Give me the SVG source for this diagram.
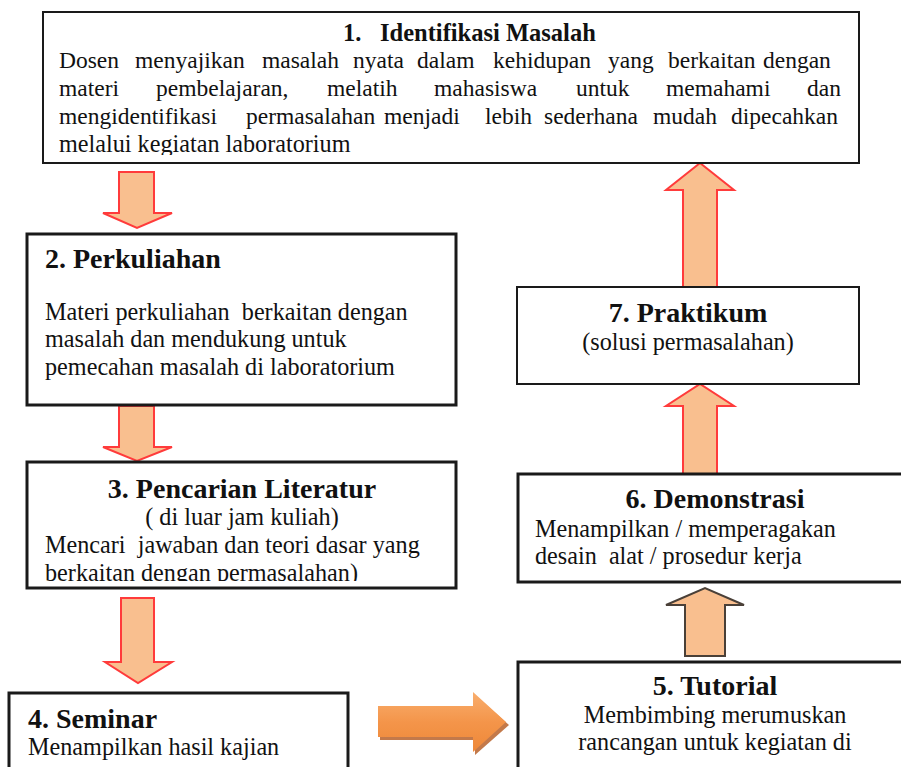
<svg xmlns="http://www.w3.org/2000/svg" width="901" height="767" viewBox="0 0 901 767">
<defs>
<style>
.box{fill:#fff;stroke:#1a1a1a;stroke-width:3}
.thin{stroke-width:2}
.t{font-family:"Liberation Serif","Times New Roman",serif;fill:#111;font-size:24.2px}
.s{font-size:23.5px}
.b{font-family:"Liberation Serif","Times New Roman",serif;fill:#111;font-weight:bold;font-size:28px}
.c{text-anchor:middle}
.ar{fill:#F9BF8F;stroke:#FF3B3B;stroke-width:2;stroke-linejoin:miter}
.ag{fill:#F9BF8F;stroke:#4a4038;stroke-width:2}
</style>
<linearGradient id="og" x1="0" y1="0" x2="0" y2="1">
<stop offset="0" stop-color="#F9AE6E"/>
<stop offset="0.5" stop-color="#F4954A"/>
<stop offset="1" stop-color="#EE8838"/>
</linearGradient>
<clipPath id="c1"><rect x="43" y="12" width="816" height="143"/></clipPath>
<clipPath id="c3"><rect x="27" y="462" width="430" height="119"/></clipPath>
</defs>
<rect width="901" height="767" fill="#fff"/>

<g id="connectors">
<polygon class="ar" points="119,172 154,172 154,213 172,213 137,228 103,213 119,213"/>
<polygon class="ar" points="119,406 154,406 154,447 172,447 137,461 103,447 119,447"/>
<polygon class="ar" points="121,598 154,598 154,662 172,662 138,683 105,662 121,662"/>
<polygon points="380,709 475,709 475,695 509,725 475,755 475,740 380,740" fill="#B8622A" opacity="0.85"/>
<polygon points="378,706 473,706 473,692 506,722 473,752 473,737 378,737" fill="url(#og)"/>
<polygon class="ag" points="685,656 725,656 725,605 744,605 705,588 666,605 685,605"/>
<polygon class="ar" points="683,474 717,474 717,406 734,406 700,384 666,406 683,406"/>
<polygon class="ar" points="683,287 717,287 717,190 734,190 700,163 666,190 683,190"/>
</g>

<g id="node1">
<rect class="box thin" x="43" y="12" width="816" height="151"/>
<text class="t" style="font-weight:bold;font-size:24.5px" y="41"><tspan x="343">1.</tspan><tspan x="380">Identifikasi Masalah</tspan></text>
<g clip-path="url(#c1)">
<text class="t s" y="68"><tspan x="59">Dosen</tspan><tspan x="135">menyajikan</tspan><tspan x="262">masalah</tspan><tspan x="353">nyata</tspan><tspan x="417">dalam</tspan><tspan x="493">kehidupan</tspan><tspan x="608">yang</tspan><tspan x="668">berkaitan</tspan><tspan x="763">dengan</tspan></text>
<text class="t s" y="96"><tspan x="59">materi</tspan><tspan x="156">pembelajaran,</tspan><tspan x="327">melatih</tspan><tspan x="434">mahasiswa</tspan><tspan x="576">untuk</tspan><tspan x="666">memahami</tspan><tspan x="807">dan</tspan></text>
<text class="t s" y="124"><tspan x="59">mengidentifikasi</tspan><tspan x="246">permasalahan</tspan><tspan x="384">menjadi</tspan><tspan x="485">lebih</tspan><tspan x="544">sederhana</tspan><tspan x="653">mudah</tspan><tspan x="731">dipecahkan</tspan></text>
<text class="t" x="59" y="152">melalui kegiatan laboratorium</text>
</g>
</g>

<g id="node2">
<rect class="box" x="27" y="234" width="429" height="171"/>
<text class="b" x="45" y="268">2. Perkuliahan</text>
<text class="t" x="45" y="320" xml:space="preserve">Materi perkuliahan  berkaitan dengan</text>
<text class="t" x="45" y="347">masalah dan mendukung untuk</text>
<text class="t" x="45" y="375">pemecahan masalah di laboratorium</text>
</g>

<g id="node3">
<rect class="box" x="27" y="462" width="429" height="126"/>
<text class="b c" x="242" y="498">3. Pencarian Literatur</text>
<text class="t c" x="242" y="525">( di luar jam kuliah)</text>
<text class="t" x="45" y="553" xml:space="preserve">Mencari  jawaban dan teori dasar yang</text>
<g clip-path="url(#c3)">
<text class="t" x="45" y="581">berkaitan dengan permasalahan)</text>
</g>
</g>

<g id="node4">
<rect class="box" x="9" y="693" width="339" height="90"/>
<text class="b" x="28" y="728">4. Seminar</text>
<text class="t" x="28" y="755">Menampilkan hasil kajian</text>
</g>

<g id="node5">
<rect class="box" x="518" y="662" width="394" height="120"/>
<text class="b c" x="715" y="695">5. Tutorial</text>
<text class="t c" x="715" y="723">Membimbing merumuskan</text>
<text class="t c" x="715" y="750">rancangan untuk kegiatan di</text>
</g>

<g id="node6">
<rect class="box" x="518" y="474" width="394" height="108"/>
<text class="b c" x="715" y="508">6. Demonstrasi</text>
<text class="t" x="535" y="537">Menampilkan / memperagakan</text>
<text class="t" x="535" y="564" xml:space="preserve">desain  alat / prosedur kerja</text>
</g>

<g id="node7">
<rect class="box thin" x="517" y="287" width="342" height="97"/>
<text class="b c" x="688" y="322">7. Praktikum</text>
<text class="t c" x="688" y="350">(solusi permasalahan)</text>
</g>
</svg>
